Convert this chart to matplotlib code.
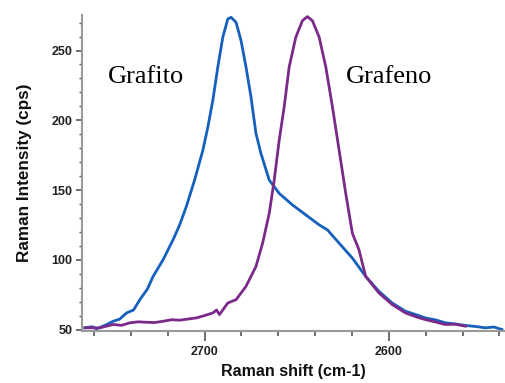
import matplotlib.pyplot as plt
from matplotlib.ticker import MultipleLocator

# Raman spectra (shift in cm-1, intensity in cps)
grafito_shift = [2764.9, 2761.0, 2758.6, 2754.0, 2749.6, 2746.0, 2742.3, 2738.5, 2735.1,
                 2731.0, 2727.9, 2722.5, 2717.1, 2713.5, 2709.9, 2705.4, 2700.9, 2698.2,
                 2695.5, 2692.8, 2690.1, 2687.4, 2685.6, 2682.9, 2680.2, 2677.5, 2674.8,
                 2672.1, 2669.4, 2664.9, 2659.5, 2652.3, 2645.0, 2637.8, 2633.3, 2627.0,
                 2619.8, 2612.6, 2605.4, 2598.2, 2591.0, 2585.0, 2580.2, 2575.0, 2569.4,
                 2564.0, 2558.5, 2553.0, 2547.7, 2543.0, 2538.7]
grafito_int = [51.2, 52.0, 50.5, 53.0, 55.9, 57.5, 61.9, 64.0, 71.4,
               79.0, 88.1, 100.0, 114.3, 125.0, 138.1, 157.1, 178.6, 195.2,
               214.3, 238.1, 259.5, 272.6, 273.8, 270.2, 257.1, 238.1, 216.7,
               190.5, 176.2, 157.1, 147.6, 139.3, 132.1, 125.0, 121.4, 111.9,
               101.2, 88.1, 77.4, 69.0, 63.1, 60.5, 58.3, 57.0, 54.8,
               54.0, 52.9, 52.2, 51.2, 51.8, 50.0]

grafeno_shift = [2764.9, 2756.8, 2749.6, 2745.0, 2740.5, 2736.0, 2731.5, 2727.0, 2722.5,
                 2718.0, 2713.5, 2709.0, 2704.5, 2700.0, 2695.5, 2693.5, 2691.9, 2687.4,
                 2682.9, 2677.5, 2672.1, 2668.5, 2664.9, 2662.2, 2659.5, 2656.8, 2654.1,
                 2650.5, 2646.9, 2644.2, 2641.5, 2637.8, 2634.2, 2630.6, 2627.0, 2623.4,
                 2619.8, 2616.2, 2612.6, 2605.4, 2598.2, 2591.0, 2585.0, 2580.2, 2575.0,
                 2569.4, 2564.0, 2558.5]
grafeno_int = [51.2, 51.2, 53.6, 53.0, 54.8, 55.5, 55.2, 55.0, 55.9,
               57.0, 56.7, 57.5, 58.3, 60.0, 61.9, 64.0, 60.7, 69.0,
               71.4, 81.0, 95.2, 111.9, 133.3, 157.1, 185.7, 209.5, 238.1,
               259.5, 271.4, 274.3, 271.4, 259.5, 238.1, 209.5, 178.6, 147.6,
               119.0, 107.1, 88.1, 76.2, 67.9, 61.9, 59.0, 57.1, 55.5,
               53.6, 53.8, 52.4]

fig = plt.figure(figsize=(5.06, 3.83), dpi=100)
ax = fig.add_axes([0.162, 0.136, 0.836, 0.825])

ax.plot(grafito_shift, grafito_int, color='#1560bd', lw=2.0)
ax.plot(grafeno_shift, grafeno_int, color='#7b2a8a', lw=2.0)

ax.set_xlim(2766.5, 2537)
ax.set_ylim(49, 275.5)

ax.xaxis.set_major_locator(MultipleLocator(100))
ax.xaxis.set_minor_locator(MultipleLocator(20))
ax.yaxis.set_major_locator(MultipleLocator(50))
ax.yaxis.set_minor_locator(MultipleLocator(10))

for s in ['top', 'right']:
    ax.spines[s].set_visible(False)
for s in ['left', 'bottom']:
    ax.spines[s].set_color('#9a9a9a')
    ax.spines[s].set_linewidth(1.5)

ax.tick_params(axis='x', which='major', length=7, width=1.2, color='#555555', direction='out', pad=4)
ax.tick_params(axis='x', which='minor', length=3.5, width=1.2, color='#555555', direction='out')
ax.tick_params(axis='y', which='major', length=4, width=1.2, color='#555555', direction='out', pad=3)
ax.tick_params(axis='y', which='minor', length=2, width=1.0, color='#555555', direction='out')

for lab in ax.get_xticklabels() + ax.get_yticklabels():
    lab.set_fontfamily('Liberation Sans')
    lab.set_fontweight('bold')
    lab.set_fontsize(9)
    lab.set_color('#222222')

ax.set_xlabel('Raman shift (cm-1)', fontfamily='Liberation Sans', fontweight='bold',
              fontsize=11.5, color='#111111', labelpad=4)
ax.set_ylabel('Raman Intensity (cps)', fontfamily='Liberation Sans', fontweight='bold',
              fontsize=12.3, color='#111111', labelpad=14)

ax.text(2752.4, 226.4, 'Grafito', fontfamily='Liberation Serif', fontsize=19,
        ha='left', va='baseline', color='black')
ax.text(2623.2, 226.4, 'Grafeno', fontfamily='Liberation Serif', fontsize=19,
        ha='left', va='baseline', color='black')

fig.savefig('out.png', dpi=100)
